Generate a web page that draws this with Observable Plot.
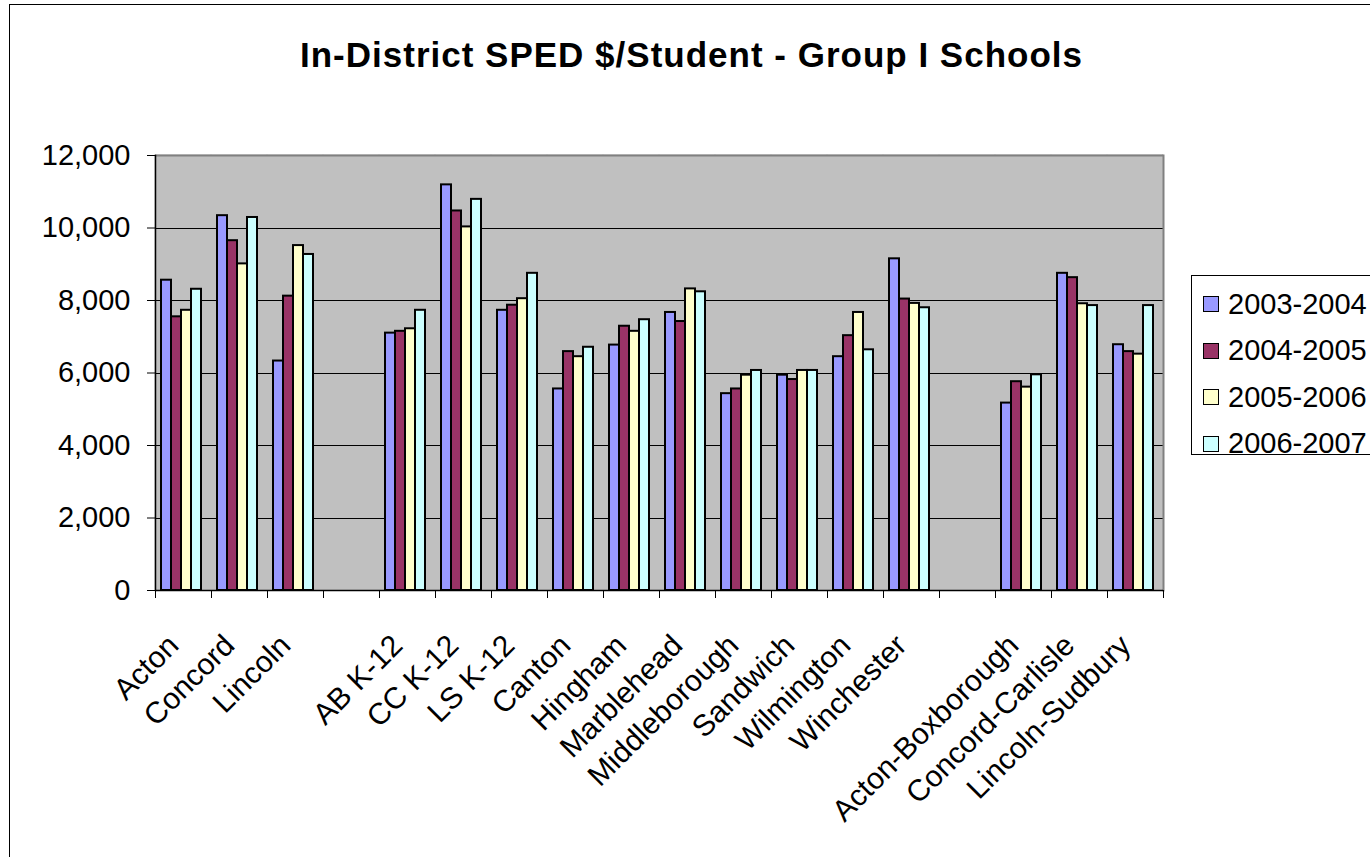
<!DOCTYPE html>
<html><head><meta charset="utf-8">
<script src="https://cdn.jsdelivr.net/npm/d3@7"></script>
<script src="https://cdn.jsdelivr.net/npm/@observablehq/plot@0.6"></script>
<style>
body{margin:0;background:#fff;font-family:"Liberation Sans",Arial,sans-serif;}
#wrap{position:relative;width:1370px;height:857px;overflow:hidden;background:#fff;}
#border{position:absolute;left:9px;top:4px;width:1400px;height:900px;border:1.5px solid #000;box-sizing:border-box}
#title{position:absolute;top:35px;left:0;width:1383px;text-align:center;font-weight:bold;font-size:35px;letter-spacing:1px;white-space:nowrap;}
#chart{position:absolute;left:0;top:0}
#legend{position:absolute;left:1191px;top:275px;width:200px;height:180px;border:1px solid #000;box-sizing:border-box;padding-top:5px;background:#fff;}
.item{height:46.5px;display:flex;align-items:center;font-size:29px;}
.sw{width:16px;height:16px;border:1.5px solid #000;margin-left:11px;margin-right:9px;box-sizing:border-box}
</style></head>
<body>
<div id="wrap">
  <div id="border"></div>
  <div id="title"></div>
  <div id="chart"></div>
  <div id="legend"></div>
</div>
<script>
const titleText = "In-District SPED $/Student - Group I Schools";
const schools = ["Acton","Concord","Lincoln","AB K-12","CC K-12","LS K-12","Canton","Hingham","Marblehead","Middleborough","Sandwich","Wilmington","Winchester","Acton-Boxborough","Concord-Carlisle","Lincoln-Sudbury"];
const slots = ["Acton","Concord","Lincoln"," ","AB K-12","CC K-12","LS K-12","Canton","Hingham","Marblehead","Middleborough","Sandwich","Wilmington","Winchester","  ","Acton-Boxborough","Concord-Carlisle","Lincoln-Sudbury"];
const years = ["2003-2004","2004-2005","2005-2006","2006-2007"];
const colors = ["#9999FF","#993366","#FFFFCC","#CCFFFF"];
const v2003 = [8560,10340,6330,7100,11190,7730,5560,6770,7670,5430,5940,6450,9150,5170,8750,6780];
const v2004 = [7550,9650,8120,7150,10470,7870,6590,7290,7420,5560,5820,7030,8040,5760,8630,6590];
const v2005 = [7730,9010,9515,7220,10030,8050,6450,7150,8320,5940,6070,7670,7920,5610,7910,6520];
const v2006 = [8310,10290,9270,7730,10790,8750,6710,7470,8240,6070,6070,6640,7800,5950,7860,7860];
const yTicks = [0,2000,4000,6000,8000,10000,12000];

const series = [v2003, v2004, v2005, v2006];
const rows = schools.flatMap((s, i) => years.map((y, j) => ({school: s, year: y, value: series[j][i]})));

document.getElementById("title").textContent = titleText;
const legend = document.getElementById("legend");
years.forEach((y, j) => {
  const it = document.createElement("div"); it.className = "item";
  const sw = document.createElement("div"); sw.className = "sw"; sw.style.background = colors[j];
  const tx = document.createElement("span"); tx.textContent = y;
  it.appendChild(sw); it.appendChild(tx); legend.appendChild(it);
});

const chart = Plot.plot({
  width: 1170, height: 857,
  marginLeft: 151, marginRight: 4, marginTop: 155, marginBottom: 267,
  style: {fontFamily: '"Liberation Sans", Arial, sans-serif', fontSize: "29px", color: "#000", background: "transparent", overflow: "visible"},
  fx: {domain: slots, paddingInner: 0, paddingOuter: 0, label: null},
  x: {domain: years, paddingInner: 0, paddingOuter: 0.8, align: 0.4, axis: null},
  y: {domain: [0, 12000]},
  color: {domain: years, range: colors},
  marks: [
    Plot.rect(slots, {fx: d => d, y1: 0, y2: 12000, fill: "#C0C0C0", stroke: "#C0C0C0", strokeWidth: 1}),
    Plot.ruleY(yTicks.slice(1, -1), {stroke: "#000", strokeWidth: 1, shapeRendering: "crispEdges"}),
    Plot.ruleY([12000], {stroke: "#808080", strokeWidth: 2}),
    Plot.frame({fx: () => slots[slots.length - 1], anchor: "right", stroke: "#808080", strokeWidth: 2}),
    Plot.barY(rows, {fx: "school", x: "year", y: "value", fill: "year", stroke: "#000", strokeWidth: 2}),
    Plot.ruleY([0], {stroke: "#000", strokeWidth: 1.5}),
    Plot.frame({fx: () => slots[0], anchor: "left", stroke: "#000", strokeWidth: 1.5}),
    Plot.frame({anchor: "left", stroke: "#000", strokeWidth: 1, insetTop: 435, insetBottom: -7}),
    Plot.frame({anchor: "right", stroke: "#000", strokeWidth: 1, insetTop: 435, insetBottom: -7}),
    Plot.axisY({ticks: yTicks, tickFormat: d3.format(","), tickSize: 8, tickPadding: 17, fontSize: 29, label: null}),
    Plot.axisFx({anchor: "bottom", tickSize: 0, tickRotate: -45, tickPadding: 50, dx: -10, fontSize: 30, label: null})
  ]
});
document.getElementById("chart").appendChild(chart);
</script>
</body></html>
